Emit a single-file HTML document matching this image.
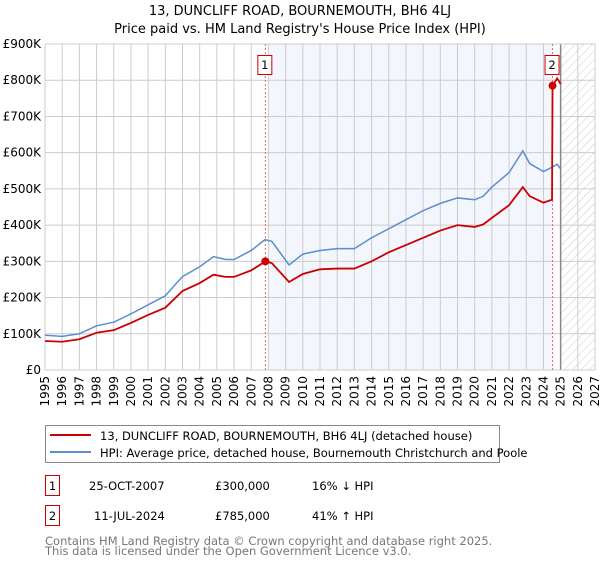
<!DOCTYPE html>
<html><head><meta charset="utf-8"><style>
body{margin:0;background:#fff;font-family:"DejaVu Sans","Liberation Sans",sans-serif;}
svg text{font-family:"DejaVu Sans","Liberation Sans",sans-serif;}
</style></head><body>
<svg id="c" width="600" height="560" xmlns="http://www.w3.org/2000/svg">
<defs><pattern id="hatch" width="6" height="6" patternUnits="userSpaceOnUse" patternTransform="rotate(45)"><line x1="0" y1="0" x2="0" y2="6" stroke="#ccc" stroke-width="1"/></pattern></defs>
<text x="300" y="15" text-anchor="middle" font-size="13">13, DUNCLIFF ROAD, BOURNEMOUTH, BH6 4LJ</text>
<text x="300" y="33" text-anchor="middle" font-size="13">Price paid vs. HM Land Registry's House Price Index (HPI)</text>
<g id="plot"></g>
<g>
<rect x="45.5" y="425.5" width="454" height="37" fill="#fff" stroke="#888"/>
<line x1="50" y1="435" x2="91" y2="435" stroke="#cc0000" stroke-width="2"/>
<text x="100" y="440" font-size="11.5">13, DUNCLIFF ROAD, BOURNEMOUTH, BH6 4LJ (detached house)</text>
<line x1="50" y1="452" x2="91" y2="452" stroke="#5b8dd0" stroke-width="2"/>
<text x="100" y="457" font-size="11.5">HPI: Average price, detached house, Bournemouth Christchurch and Poole</text>
</g>
<g font-size="11.5">
<rect x="45.5" y="475.5" width="14" height="20" fill="#fff" stroke="#cc0000"/><text x="52.5" y="490" text-anchor="middle">1</text>
<text x="89" y="490">25-OCT-2007</text><text x="215" y="490">£300,000</text><text x="312" y="490">16% ↓ HPI</text>
<rect x="45.5" y="505.5" width="14" height="20" fill="#fff" stroke="#cc0000"/><text x="52.5" y="520" text-anchor="middle">2</text>
<text x="94" y="520">11-JUL-2024</text><text x="215" y="520">£785,000</text><text x="312" y="520">41% ↑ HPI</text>
</g>
<text x="45" y="545" font-size="11.5" fill="#777">Contains HM Land Registry data © Crown copyright and database right 2025.</text>
<text x="45" y="555" font-size="11.5" fill="#777">This data is licensed under the Open Government Licence v3.0.</text>
</svg>
<script>
const hpiYears=[1995,1996,1997,1998,1999,2000,2001,2002,2003,2004,2004.8,2005.5,2006,2007,2007.8,2008.2,2009.2,2010,2011,2012,2013,2014,2015,2016,2017,2018,2019,2020,2020.5,2021,2022,2022.8,2023.2,2024,2024.5,2024.8,2025.0];
const hpiValues=[96,93,100,122,132,155,180,205,258,285,313,305,305,330,360,355,290,320,330,335,335,365,390,415,440,460,475,470,480,505,545,605,570,548,560,568,555];
const priceYears=[1995,1996,1997,1998,1999,2000,2001,2002,2003,2004,2004.8,2005.5,2006,2007,2007.82,2008.2,2009.2,2010,2011,2012,2013,2014,2015,2016,2017,2018,2019,2020,2020.5,2021,2022,2022.8,2023.2,2024,2024.5,2024.53,2024.8,2025.0];
const priceValues=[80,78,85,103,110,130,152,172,218,240,263,257,257,275,300,295,243,265,278,280,280,300,325,345,365,385,400,395,402,420,455,505,480,462,470,785,805,790];
const saleYears=[2007.82,2024.53];
const saleValues=[300,785];
const saleLabels=["1","2"];
const yTicks=[0,100,200,300,400,500,600,700,800,900];
const yTickLabels=["£0","£100K","£200K","£300K","£400K","£500K","£600K","£700K","£800K","£900K"];
const xTicks=[1995,1996,1997,1998,1999,2000,2001,2002,2003,2004,2005,2006,2007,2008,2009,2010,2011,2012,2013,2014,2015,2016,2017,2018,2019,2020,2021,2022,2023,2024,2025,2026,2027];
const L=45,R=595,T=44,B=370;
const x=v=>L+(v-1995)*(R-L)/32;
const y=v=>B-v*(B-T)/900;
const g=document.getElementById('plot');
const NS='http://www.w3.org/2000/svg';
function mk(t,a,p){const e=document.createElementNS(NS,t);for(const k in a)e.setAttribute(k,a[k]);(p||g).appendChild(e);return e;}
let e;
e=mk('rect',{x:L,y:T,width:R-L,height:B-T,fill:'#fff'});


e=mk('rect',{x:x(2008.05),y:T,width:x(2024.53)-x(2008.05),height:B-T,fill:'#f3f6fd'});


e=mk('rect',{x:x(2025),y:T,width:R-x(2025),height:B-T,fill:'url(#hatch)'});


yTicks.forEach((t,i)=>{
 e=mk('line',{x1:L,x2:R,y1:y(t),y2:y(t),stroke:'#ccc','stroke-width':1});
 
 
 e=mk('text',{x:L-4,y:y(t)+4,'text-anchor':'end','font-size':12});
 
 
 e.textContent=yTickLabels[i];
});
xTicks.forEach(t=>{
 e=mk('line',{x1:x(t),x2:x(t),y1:T,y2:B,stroke:'#ccc','stroke-width':1});
 
 
 e=mk('text',{x:0,y:0,'font-size':12,'text-anchor':'end',transform:`translate(${x(t)+4},${B+6}) rotate(-90)`});
 
 
 e.textContent=t;
});
e=mk('line',{x1:x(2025),x2:x(2025),y1:T,y2:B,stroke:'#888','stroke-width':1.5});


e=mk('rect',{x:L,y:T,width:R-L,height:B-T,fill:'none',stroke:'#ccc'});


saleYears.forEach((s,i)=>{
 e=mk('line',{x1:x(s),x2:x(s),y1:T,y2:B,stroke:'#e66','stroke-width':1,'stroke-dasharray':'2,2'});
 
 
});
e=mk('polyline',{points:hpiYears.map((v,i)=>x(v)+','+y(hpiValues[i])).join(' '),fill:'none',stroke:'#5b8dd0','stroke-width':1.5});


e=mk('polyline',{points:priceYears.map((v,i)=>x(v)+','+y(priceValues[i])).join(' '),fill:'none',stroke:'#cc0000','stroke-width':1.8});


saleYears.forEach((s,i)=>{
 e=mk('circle',{cx:x(s),cy:y(saleValues[i]),r:4,fill:'#cc0000'});
 
 
 e=mk('rect',{x:x(s)-7.5,y:55.5,width:14,height:19,fill:'#fff',stroke:'#cc0000'});
 
 
 e=mk('text',{x:x(s)-0.5,y:69,'text-anchor':'middle','font-size':11.5});
 
 
 e.textContent=saleLabels[i];
});
</script>
</body></html>
